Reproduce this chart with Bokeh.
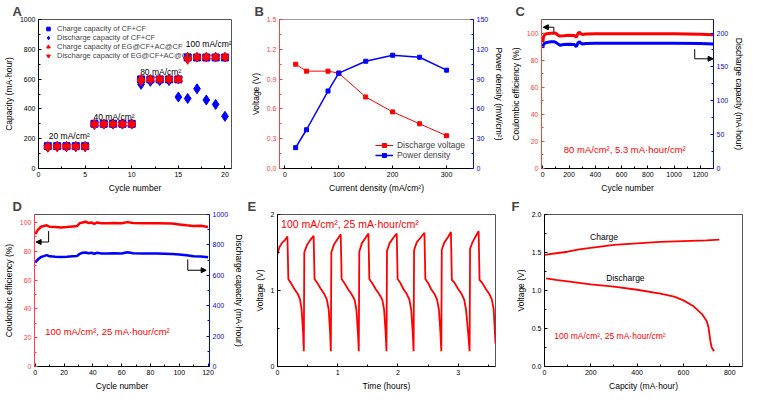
from bokeh.plotting import figure
from bokeh.models import (Range1d, LinearAxis, Legend, LegendItem, Label, Arrow, NormalHead,
                          FixedTicker, NumeralTickFormatter)
from bokeh.layouts import row, column
from bokeh.embed import file_html
from bokeh.resources import INLINE

FONT = "Liberation Sans"
RED = "#ff0000"
BLUE = "#0000ff"
LRED = "#ff4040"

# ---------------- data ----------------
# A
a_cycle = [1, 2, 3, 4, 5, 6, 7, 8, 9, 10, 11, 12, 13, 14, 15, 16, 17, 18, 19, 20]
a_charge_cf = [150, 150, 150, 150, 150, 300, 300, 300, 300, 300, 598, 598, 598, 598, 598, 745, 745, 745, 745, 745]
a_discharge_cf = [145, 147, 147, 147, 147, 297, 298, 298, 298, 298, 565, 585, 590, 590, 480, 470, 535, 460, 430, 350]
a_charge_eg = [150, 150, 150, 150, 150, 300, 300, 300, 300, 300, 600, 600, 600, 600, 600, 750, 750, 750, 750, 750]
a_discharge_eg = [140, 145, 145, 145, 145, 293, 296, 296, 296, 296, 585, 596, 598, 598, 598, 730, 745, 745, 745, 745]
a_rate_labels = ["20 mA/cm²", "40 mA/cm²", "80 mA/cm²", "100 mA/cm²"]
a_rate_x = [1.1, 5.9, 10.9, 15.8]
a_rate_y = [215, 345, 645, 835]

# B
b_current = [20, 40, 80, 100, 150, 200, 250, 300]
b_voltage = [1.05, 0.98, 0.98, 0.96, 0.72, 0.57, 0.45, 0.33]
b_power = [21, 39, 78, 96, 108, 114, 112, 99]

# C
c_cycle = [0, 5, 15, 30, 60, 90, 100, 115, 130, 160, 200, 240, 255, 262, 270, 280, 290, 300, 330, 400, 600, 800, 1000, 1200, 1300]
c_ce = [93, 97, 99, 99.5, 99.8, 100, 99.8, 98.5, 97.8, 98, 98.3, 98.2, 97, 98.5, 100, 100.5, 99.5, 99, 99.3, 99.5, 99.5, 99.5, 99.4, 99.2, 98.8]
c_cap = [178, 183, 185, 186, 187, 187, 186, 184, 182, 183, 183.5, 183, 180, 183, 186, 187, 185, 184, 184.5, 185, 185, 185, 184.8, 184.5, 184]

# D
d_cycle = [0, 2, 4, 6, 8, 10, 14, 18, 22, 26, 29, 31, 33, 35, 37, 39, 41, 43, 46, 50, 55, 60, 64, 68, 75, 85, 95, 100, 105, 110, 115, 120]
d_ce = [92, 95, 97, 97.5, 98, 97, 96.8, 96.5, 96.8, 97.2, 97.5, 99.5, 100, 100.5, 99.5, 100, 99, 100, 99.5, 99.5, 99.6, 99.5, 100.2, 99.6, 99.5, 99.4, 99.2, 98.6, 98, 97.5, 97.7, 96.8]
d_cap = [685, 705, 720, 726, 733, 725, 722, 720, 722, 725, 727, 742, 748, 750, 745, 748, 742, 748, 744, 744, 745, 744, 752, 745, 744, 743, 740, 737, 732, 726, 724, 718]

# E
e_time = [0.0, 0.03, 0.08, 0.13, 0.165, 0.18, 0.22, 0.28, 0.34, 0.375, 0.40, 0.425, 0.437,
          0.445, 0.49, 0.55, 0.60, 0.615, 0.66, 0.72, 0.78, 0.82, 0.85, 0.873, 0.886,
          0.894, 0.94, 1.00, 1.05, 1.065, 1.11, 1.17, 1.23, 1.28, 1.31, 1.335, 1.35,
          1.358, 1.40, 1.46, 1.51, 1.525, 1.57, 1.63, 1.69, 1.74, 1.77, 1.795, 1.81,
          1.818, 1.86, 1.92, 1.98, 1.995, 2.04, 2.09, 2.15, 2.19, 2.22, 2.245, 2.26,
          2.268, 2.31, 2.38, 2.44, 2.455, 2.50, 2.55, 2.61, 2.65, 2.68, 2.705, 2.72,
          2.728, 2.77, 2.83, 2.88, 2.895, 2.94, 3.00, 3.06, 3.10, 3.13, 3.165, 3.19,
          3.198, 3.24, 3.29, 3.34, 3.355, 3.40, 3.46, 3.52, 3.56, 3.59, 3.62]
e_volt = [1.48, 1.57, 1.63, 1.67, 1.71, 1.15, 1.10, 1.02, 0.95, 0.88, 0.75, 0.45, 0.20,
          1.50, 1.60, 1.67, 1.72, 1.15, 1.10, 1.02, 0.95, 0.88, 0.75, 0.45, 0.20,
          1.50, 1.61, 1.68, 1.74, 1.15, 1.10, 1.02, 0.95, 0.88, 0.75, 0.45, 0.20,
          1.51, 1.62, 1.69, 1.75, 1.15, 1.10, 1.02, 0.95, 0.88, 0.75, 0.45, 0.20,
          1.52, 1.62, 1.69, 1.75, 1.15, 1.10, 1.02, 0.95, 0.88, 0.75, 0.45, 0.20,
          1.53, 1.63, 1.70, 1.76, 1.15, 1.10, 1.02, 0.95, 0.88, 0.75, 0.45, 0.20,
          1.54, 1.63, 1.70, 1.77, 1.14, 1.10, 1.02, 0.95, 0.88, 0.75, 0.45, 0.20,
          1.55, 1.64, 1.71, 1.78, 1.14, 1.10, 1.02, 0.95, 0.88, 0.75, 0.30]

# F
f_charge_x = [0, 50, 100, 150, 200, 250, 300, 400, 500, 600, 700, 755]
f_charge_v = [1.47, 1.49, 1.51, 1.54, 1.56, 1.58, 1.60, 1.62, 1.64, 1.65, 1.66, 1.67]
f_dis_x = [7, 50, 100, 200, 300, 400, 500, 560, 600, 640, 680, 700, 708, 716, 722, 732]
f_dis_v = [1.16, 1.14, 1.12, 1.08, 1.05, 1.01, 0.96, 0.92, 0.87, 0.80, 0.69, 0.60, 0.52, 0.34, 0.25, 0.20]

cond_label = "100 mA/cm², 25 mA·hour/cm²"


# ---------------- helpers ----------------
def style_axis(ax, color="black", label_color=None, size="7px"):
    ax.axis_label_text_font = FONT
    ax.axis_label_text_font_size = "8.5px"
    ax.axis_label_text_font_style = "normal"
    ax.axis_label_text_color = "black"
    ax.axis_label_standoff = 3
    ax.major_label_text_font = FONT
    ax.major_label_text_font_size = size
    ax.major_label_text_color = label_color or color
    ax.major_label_standoff = 3
    ax.axis_line_color = color
    ax.major_tick_line_color = color
    ax.minor_tick_line_color = color
    ax.major_tick_in = 3
    ax.major_tick_out = 0
    ax.minor_tick_in = 2
    ax.minor_tick_out = 0


def make_fig(letter, w, h, xr, yr, bl, br, bt, bb, title_off, xticks, yticks, xminor, yminor):
    p = figure(width=w, height=h, x_range=Range1d(*xr), y_range=Range1d(*yr),
               output_backend="svg", toolbar_location=None, title=letter,
               min_border_left=bl, min_border_right=br, min_border_top=bt, min_border_bottom=bb)
    p.title.text_font = FONT
    p.title.text_font_size = "13px"
    p.title.text_font_style = "bold"
    p.title.align = "left"
    p.title.offset = title_off
    p.title.standoff = 2
    p.xgrid.visible = False
    p.ygrid.visible = False
    p.outline_line_color = "#555555"
    p.background_fill_color = "white"
    p.border_fill_color = "white"
    xa = p.xaxis[0]
    ya = p.yaxis[0]
    style_axis(xa)
    style_axis(ya)
    xa.ticker = FixedTicker(ticks=xticks, minor_ticks=xminor)
    ya.ticker = FixedTicker(ticks=yticks, minor_ticks=yminor)
    return p, xa, ya


def add_right(p, name, rng, label, ticks, minor):
    p.extra_y_ranges = {name: Range1d(*rng)}
    ax = LinearAxis(y_range_name=name, axis_label=label)
    style_axis(ax, color=BLUE)
    ax.ticker = FixedTicker(ticks=ticks, minor_ticks=minor)
    p.add_layout(ax, "right")
    return ax


def txt(p, x, y, text, size, color, y_range_name="default", baseline="middle"):
    p.add_layout(Label(x=x, y=y, text=text, text_font=FONT, text_font_size=size,
                       text_color=color, text_baseline=baseline, y_range_name=y_range_name))


def bent_arrow(p, xs, ys):
    p.line(xs[:-1], ys[:-1], line_color="black", line_width=1)
    p.add_layout(Arrow(x_start=xs[-2], y_start=ys[-2], x_end=xs[-1], y_end=ys[-1],
                       line_color="black", line_width=1,
                       end=NormalHead(size=5, fill_color="black", line_color="black")))


# ---------------- panel A ----------------
pa, pax, pay = make_fig("A", 247, 195, (0, 20.7), (0, 1000), 28, 16, 0, 5, -26,
                        [0, 5, 10, 15, 20], [0, 200, 400, 600, 800, 1000],
                        [2.5, 7.5, 12.5, 17.5], [100, 300, 500, 700, 900])
pax.axis_label = "Cycle number"
pay.axis_label = "Capacity (mA·hour)"
r1 = pa.scatter(a_cycle, a_charge_cf, marker="square", size=7, color=BLUE)
r2 = pa.scatter(a_cycle, a_discharge_cf, marker="diamond", size=10, color=BLUE)
r3 = pa.scatter(a_cycle, a_charge_eg, marker="triangle", size=8, color=RED)
r4 = pa.scatter(a_cycle, a_discharge_eg, marker="inverted_triangle", size=8, color=RED)
lega = Legend(items=[LegendItem(label="Charge capacity of CF+CF", renderers=[r1]),
                     LegendItem(label="Discharge capacity of CF+CF", renderers=[r2]),
                     LegendItem(label="Charge capacity of EG@CF+AC@CF", renderers=[r3]),
                     LegendItem(label="Discharge capacity of EG@CF+AC@CF", renderers=[r4])],
              location="top_left", label_text_font=FONT, label_text_font_size="7.5px",
              label_height=9, glyph_height=9, glyph_width=10, spacing=0, padding=2,
              margin=3, border_line_alpha=0, background_fill_alpha=0, label_standoff=4)
pa.add_layout(lega)
for t, x, y in zip(a_rate_labels, a_rate_x, a_rate_y):
    txt(pa, x, y, t, "8.5px", "black", baseline="alphabetic")

# ---------------- panel B ----------------
pb, pbx, pby = make_fig("B", 260, 195, (-10, 350), (0, 1.5), 26, 5, 0, 5, -25,
                        [0, 100, 200, 300], [0, 0.3, 0.6, 0.9, 1.2, 1.5],
                        [50, 150, 250], [0.15, 0.45, 0.75, 1.05, 1.35])
pb.outline_line_color = "#999999"
style_axis(pby, color=LRED)
pby.formatter = NumeralTickFormatter(format="0.0")
pbx.axis_label = "Current density (mA/cm²)"
pby.axis_label = "Voltage (V)"
add_right(pb, "pw", (0, 150), "Power density (mW/cm²)", [0, 30, 60, 90, 120, 150], [15, 45, 75, 105, 135])
lv = pb.line(b_current, b_voltage, color=RED, line_width=1)
sv = pb.scatter(b_current, b_voltage, marker="square", size=4, color=RED)
lp = pb.line(b_current, b_power, color=BLUE, line_width=1.5, y_range_name="pw")
sp = pb.scatter(b_current, b_power, marker="square", size=4, color=BLUE, y_range_name="pw")
legb = Legend(items=[LegendItem(label="Discharge voltage", renderers=[lv, sv]),
                     LegendItem(label="Power density", renderers=[lp, sp])],
              location="bottom_right", label_text_font=FONT, label_text_font_size="8.5px",
              label_height=10, glyph_height=10, glyph_width=18, spacing=0, padding=2,
              margin=6, border_line_alpha=0, background_fill_alpha=0, label_standoff=4)
pb.add_layout(legb)

# ---------------- panel C ----------------
pc, pcx, pcy = make_fig("C", 240, 195, (-10, 1300), (0, 110), 27, 5, 0, 5, -26,
                        [0, 200, 400, 600, 800, 1000, 1200], [0, 20, 40, 60, 80, 100],
                        [100, 300, 500, 700, 900, 1100], [10, 30, 50, 70, 90])
style_axis(pcy, color=LRED)
pcx.axis_label = "Cycle number"
pcy.axis_label = "Coulombic efficiency (%)"
add_right(pc, "cap", (0, 220), "Discharge capacity (mA·hour)", [0, 50, 100, 150, 200], [25, 75, 125, 175])
pc.line(c_cycle, c_ce, color=RED, line_width=3)
pc.line(c_cycle, c_cap, color=BLUE, line_width=3, y_range_name="cap")
bent_arrow(pc, [84, 84, 4], [101, 104.3, 104.3])
bent_arrow(pc, [1157, 1157, 1297], [88, 81, 81])
txt(pc, 160, 14, "80 mA/cm², 5.3 mA·hour/cm²", "9.5px", RED, baseline="alphabetic")

# ---------------- panel D ----------------
pd_, pdx, pdy = make_fig("D", 247, 198, (-0.5, 121), (0, 105.5), 24, 16, 0, 5, -22,
                         [0, 20, 40, 60, 80, 100, 120], [0, 20, 40, 60, 80, 100],
                         [10, 30, 50, 70, 90, 110], [10, 30, 50, 70, 90])
style_axis(pdy, color=LRED)
pdx.axis_label = "Cycle number"
pdy.axis_label = "Coulombic efficiency (%)"
add_right(pd_, "cap", (0, 1000), "Discharge capacity (mA·hour)", [0, 200, 400, 600, 800, 1000], [100, 300, 500, 700, 900])
pd_.line(d_cycle, d_ce, color=RED, line_width=2.5)
pd_.line(d_cycle, d_cap, color=BLUE, line_width=2.5, y_range_name="cap")
bent_arrow(pd_, [9.3, 9.3, 0.6], [94, 86.4, 86.4])
bent_arrow(pd_, [105.9, 105.9, 118.7], [74.3, 66.8, 66.8])
txt(pd_, 6.9, 24, cond_label, "9.5px", RED, baseline="alphabetic")

# ---------------- panel E ----------------
pe, pex, pey = make_fig("E", 260, 198, (0, 3.62), (0, 2), 30, 12, 0, 5, -30,
                        [0, 1, 2, 3], [0, 1, 2], [0.5, 1.5, 2.5, 3.5], [0.5, 1.5])
pex.axis_label = "Time (hours)"
pey.axis_label = "Voltage (V)"
pe.line(e_time, e_volt, color=RED, line_width=1.8)
txt(pe, 0.06, 1.88, cond_label, "10.5px", RED)

# ---------------- panel F ----------------
pf, pfx, pfy = make_fig("F", 240, 198, (0, 855), (0, 2), 37, 5, 0, 5, -33,
                        [0, 200, 400, 600, 800], [0, 0.5, 1.0, 1.5, 2.0],
                        [100, 300, 500, 700], [0.25, 0.75, 1.25, 1.75])
pfy.formatter = NumeralTickFormatter(format="0.0")
pfx.axis_label = "Capcity (mA·hour)"
pfy.axis_label = "Voltage (V)"
pf.line(f_charge_x, f_charge_v, color=RED, line_width=1.8)
pf.line(f_dis_x, f_dis_v, color=RED, line_width=1.8)
txt(pf, 197, 1.70, "Charge", "8.5px", "black")
txt(pf, 267, 1.17, "Discharge", "8.5px", "black")
txt(pf, 42, 0.40, cond_label, "8.5px", RED)

layout = column(row(pa, pb, pc), row(pd_, pe, pf))
open("out.html", "w").write(file_html(layout, INLINE))
